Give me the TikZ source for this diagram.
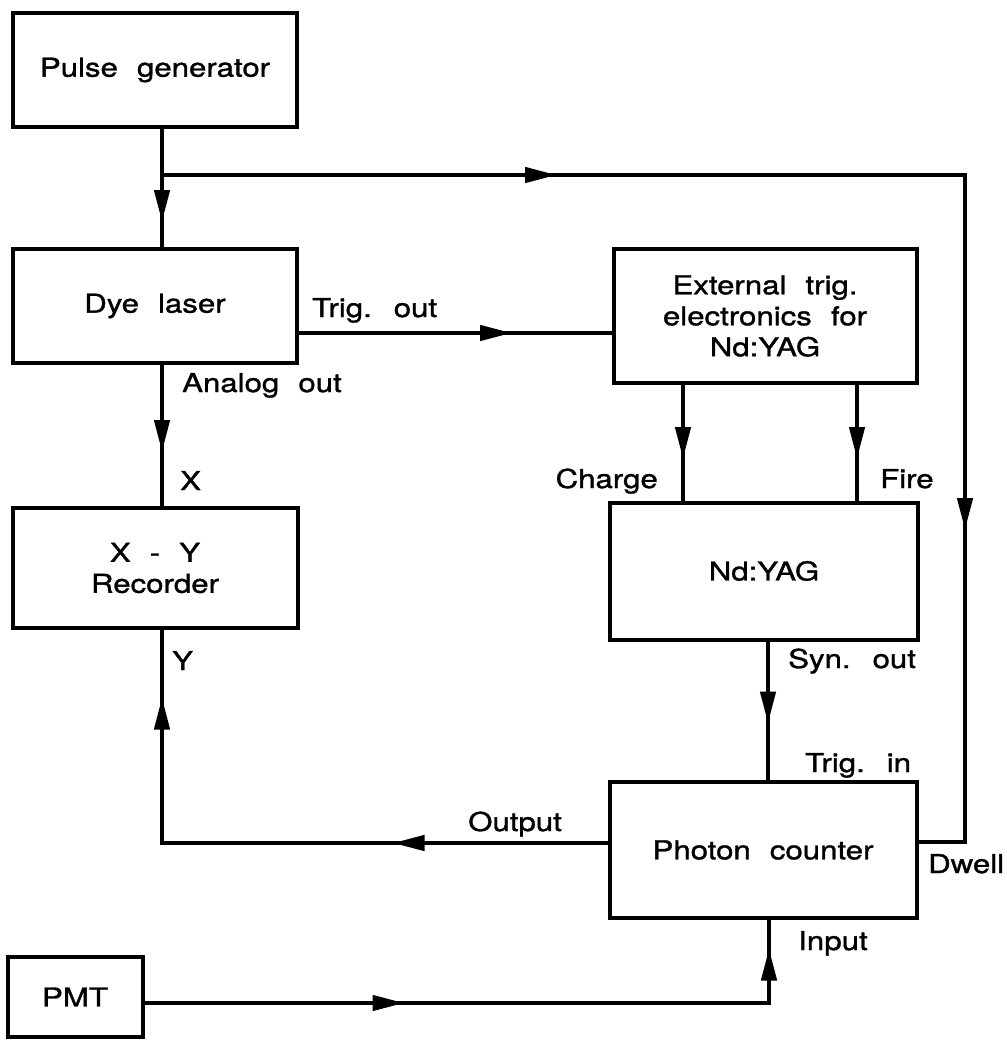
\documentclass[tikz,border=0pt]{standalone}
\usepackage{fontspec}
\setmainfont{TeX Gyre Heros}[FakeStretch=1.2, WordSpace=2.2, FakeBold=1.2]
\usetikzlibrary{arrows.meta,decorations.markings}

\newcommand\figfont{\fontsize{26}{31}\selectfont}

\begin{document}
\begin{tikzpicture}[
  x=1pt, y=-1pt,
  device/.style={draw, line width=4pt, align=center, font=\figfont, inner sep=0pt},
  lbl/.style={font=\figfont, inner sep=0pt, anchor=base west},
  flow/.style={line width=4.5pt},
  tipat/.style={postaction={decorate, decoration={markings,
      mark=at position #1 with {\arrow{Triangle[length=32pt,width=15pt]}}}}}
]
\useasboundingbox (0,0) rectangle (1007,1042);
\node[device, minimum width=284pt, minimum height=114pt] (pulse) at (155,70) {Pulse generator};
\node[device, minimum width=284pt, minimum height=114pt] (dye) at (155,306) {Dye laser};
\node[device, minimum width=303pt, minimum height=134pt] (trig) at (765,316) {External trig.\\electronics for\\Nd:YAG};
\node[device, minimum width=285pt, minimum height=120pt] (xy) at (155,568) {X - Y\\Recorder};
\node[device, minimum width=308pt, minimum height=137pt] (yag) at (764,571) {Nd:YAG};
\node[device, minimum width=307pt, minimum height=136pt] (counter) at (763,850) {Photon counter};
\node[device, minimum width=135pt, minimum height=80pt] (pmt) at (75,997) {PMT};
% branch points
\coordinate (split) at (162,175);
\coordinate (corner) at (965,175);
\coordinate (trigout) at ([yshift=-27pt]dye.east);
\coordinate (charge) at ([xshift=-82pt]trig.south);
\coordinate (fire) at ([xshift=92pt]trig.south);
\coordinate (synout) at ([xshift=4pt]yag.south);
\coordinate (analog) at ([xshift=7pt]dye.south);
\coordinate (output) at ([yshift=7pt]counter.west);
\coordinate (pmtout) at ([yshift=-6pt]pmt.east);
\draw[flow, tipat=93pt] ([xshift=7pt]pulse.south) -- ([xshift=7pt]dye.north);
\draw[flow, tipat=395pt, tipat=1158pt] (split) -- (corner) |- ([yshift=8pt]counter.east);
\draw[flow, tipat=213pt] (trigout) -- (trigout -| trig.west);
\draw[flow, tipat=74pt] (charge) -- (charge |- yag.north);
\draw[flow, tipat=74pt] (fire) -- (fire |- yag.north);
\draw[flow, tipat=82pt] (synout) -- (synout |- counter.north);
\draw[flow, tipat=87pt] (analog) -- (analog |- xy.north);
\draw[flow, tipat=215pt, tipat=591pt] (output) -| ([xshift=7pt]xy.south);
\draw[flow, tipat=260pt, tipat=679pt] (pmtout) -| ([xshift=6pt]counter.south);
% port labels
\node[lbl] (ltrigout) at (312,317) {Trig. out};
\node[lbl] (lanalog) at (182,392) {Analog out};
\node[lbl] (lx) at (180,490) {X};
\node[lbl] (ly) at (172,670) {Y};
\node[lbl, anchor=base east] (lcharge) at (658,488) {Charge};
\node[lbl] (lfire) at (880,488) {Fire};
\node[lbl] (lsyn) at (788,668) {Syn. out};
\node[lbl] (ltrigin) at (805,772) {Trig. in};
\node[lbl] (loutput) at (468,831) {Output};
\node[lbl] (linput) at (798,950) {Input};
\node[lbl] (ldwell) at (928,873) {Dwell};
\end{tikzpicture}
\end{document}
